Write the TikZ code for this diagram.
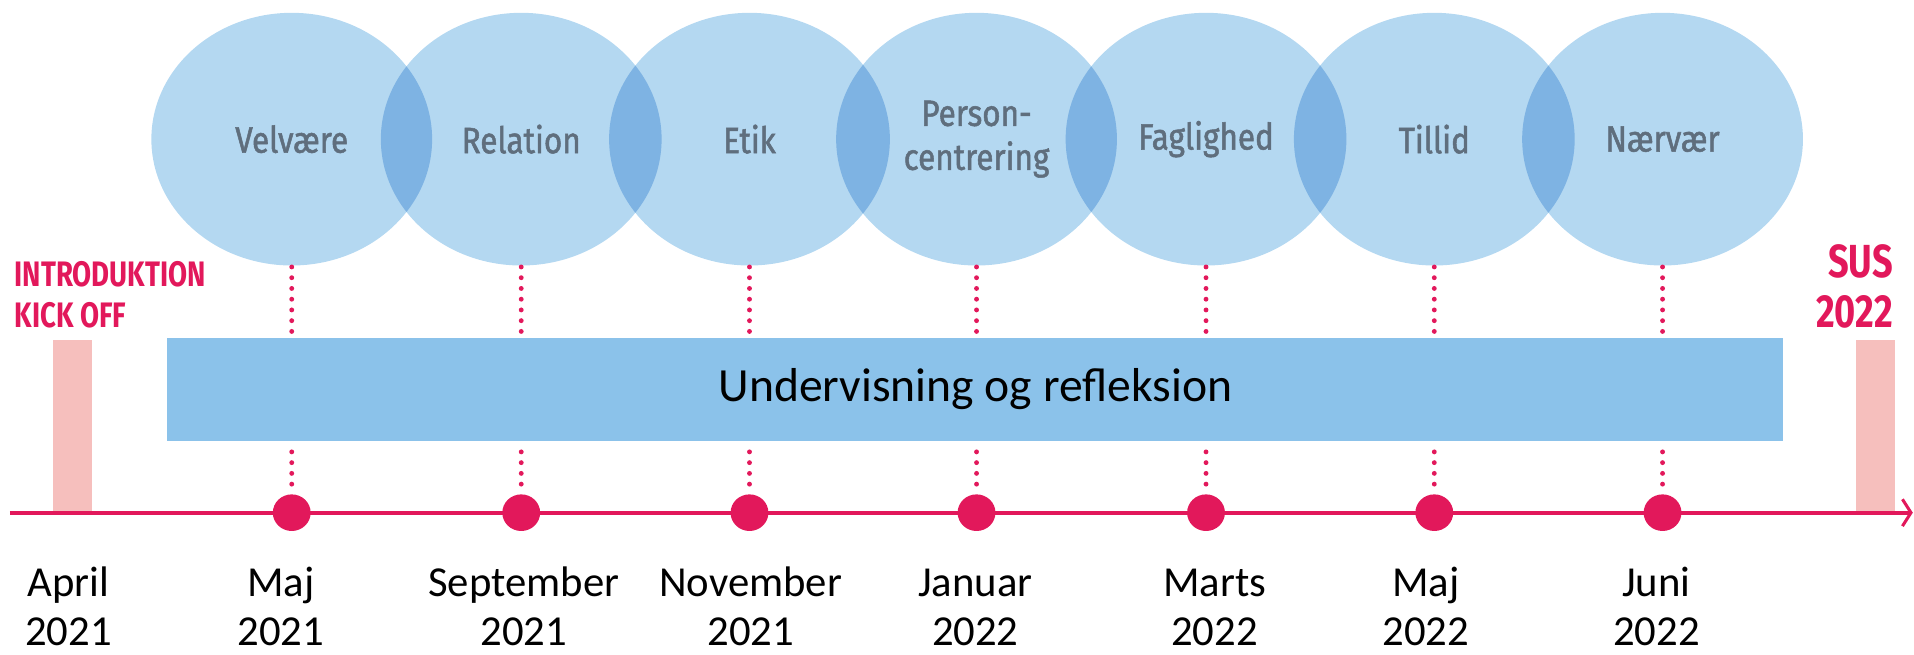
\documentclass[tikz,border=0pt]{standalone}
\usepackage{fontspec}
\setmainfont{Carlito}
\newfontfamily\dinfont[FakeStretch=0.86,FakeBold=1.4]{Fira Sans}
\newfontfamily\dinred[FakeStretch=0.78]{Fira Sans}
\usetikzlibrary{shapes.geometric,arrows.meta}
\definecolor{crim}{HTML}{E2185B}
\definecolor{cfill}{HTML}{B4D8F1}
\definecolor{lensc}{HTML}{7EB3E3}
\definecolor{barc}{HTML}{8BC2EA}
\definecolor{pinkc}{HTML}{F6BFBD}
\definecolor{cgray}{HTML}{5F6E7D}
\begin{document}
\begin{tikzpicture}[x=1pt,y=-1pt,
  clabel/.style={ellipse, minimum width=230pt, minimum height=207pt, inner sep=0pt,
    font=\dinfont\fontsize{30}{36}\selectfont, text=cgray, align=center},
  barbox/.style={rectangle, fill=barc, minimum width=1324pt, minimum height=84pt, inner sep=0pt,
    font=\fontsize{39}{44}\selectfont, text=black},
  dotnd/.style={ellipse, fill=crim, minimum width=31pt, minimum height=30pt, inner sep=0pt},
  dotln/.style={crim, line width=4pt, line cap=round, dash pattern=on 0pt off 8.8pt},
  pinkbar/.style={rectangle, fill=pinkc, minimum width=32pt, minimum height=141pt, inner sep=0pt},
  redlbl/.style={font=\dinred\bfseries\fontsize{29}{33}\selectfont, text=crim, inner sep=0pt},
  redlblb/.style={font=\dinred\bfseries\fontsize{38}{41}\selectfont, text=crim, inner sep=0pt},
  mlbl/.style={font=\fontsize{35}{40}\selectfont, align=center, anchor=base, inner sep=0pt},
  tline/.style={crim, line width=3.5pt}
]
\useasboundingbox (0,0) rectangle (1568,536);

% circles
\foreach \x in {239,427,614,800,988,1175,1362}
  \fill[cfill] (\x,114) ellipse [x radius=115pt, y radius=103.5pt];
% overlaps
\foreach \a/\b in {239/427,427/614,614/800,800/988,988/1175,1175/1362}{
  \begin{scope}
    \clip (\a,114) ellipse [x radius=115pt, y radius=103.5pt];
    \fill[lensc] (\b,114) ellipse [x radius=115pt, y radius=103.5pt];
  \end{scope}
}
\node[clabel] (c1) at (239,114) {Velvære};
\node[clabel] (c2) at (427,114) {Relation};
\node[clabel] (c3) at (614,114) {Etik};
\node[clabel] (c4) at (800,114) {Person-\\centrering};
\node[clabel] (c5) at (988,114) {Faglighed};
\node[clabel] (c6) at (1175,114) {Tillid};
\node[clabel] (c7) at (1362,114) {Nærvær};

% pink bars
\node[pinkbar, anchor=south west] (p1) at (43,420) {};
\node[pinkbar, anchor=south west] (p2) at (1520,420) {};

% red labels
\node[redlbl, anchor=base west, align=left] (intro) at (12,268) {INTRODUKTION\\KICK OFF};
\node[redlblb, anchor=base east, align=right] (sus) at (1551,268) {SUS\\2022};

% bar
\node[barbox] (bar) at (799,319) {Undervisning og refleksion};

% timeline
\coordinate (t0) at (8,420);
\coordinate (t1) at (1567,420);
\draw[tline, -{Straight Barb[length=7pt, width=22pt, line width=2.5pt]}] (t0) -- (t1);

% dots
\node[dotnd] (d1) at (239,420) {};
\node[dotnd] (d2) at (427,420) {};
\node[dotnd] (d3) at (614,420) {};
\node[dotnd] (d4) at (800,420) {};
\node[dotnd] (d5) at (988,420) {};
\node[dotnd] (d6) at (1175,420) {};
\node[dotnd] (d7) at (1362,420) {};

% dotted lines
\foreach \i in {1,...,7}{
  \draw[dotln] ([yshift=-1pt]c\i.south) -- ([yshift=5pt]c\i.south |- bar.north);
  \draw[dotln] ([yshift=-9pt]bar.south -| d\i.north) -- ([yshift=3pt]d\i.north);
}

% month labels
\node[mlbl] (m1) at (56,529) {April\\2021};
\node[mlbl] (m2) at (230,529) {Maj\\2021};
\node[mlbl] (m3) at (429,529) {September\\2021};
\node[mlbl] (m4) at (615,529) {November\\2021};
\node[mlbl] (m5) at (799,529) {Januar\\2022};
\node[mlbl] (m6) at (995,529) {Marts\\2022};
\node[mlbl] (m7) at (1168,529) {Maj\\2022};
\node[mlbl] (m8) at (1357,529) {Juni\\2022};
\end{tikzpicture}
\end{document}
